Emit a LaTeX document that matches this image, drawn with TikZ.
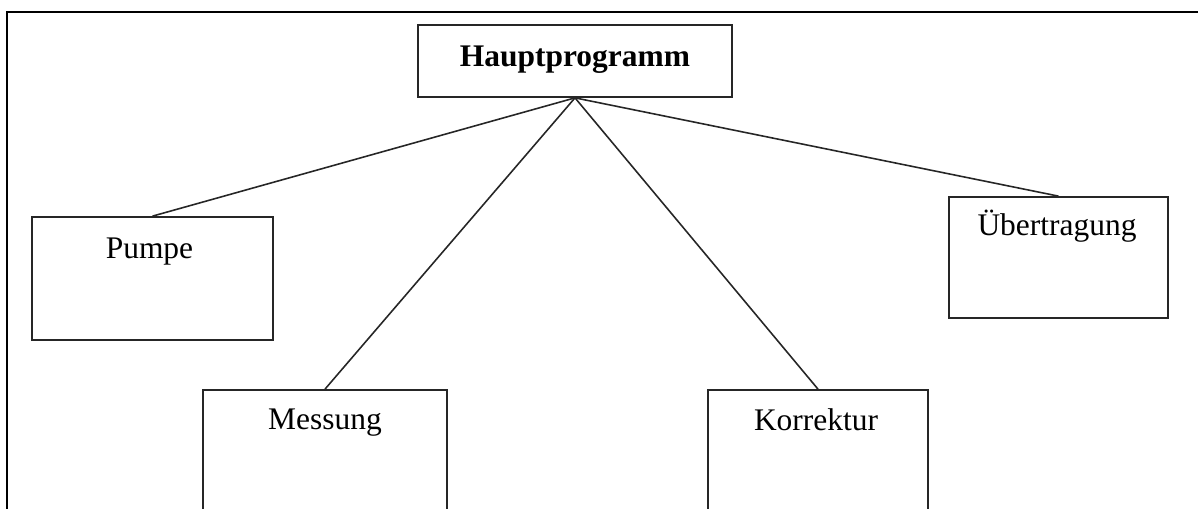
\documentclass[tikz,border=0pt]{standalone}
\usepackage{fontspec}
\setmainfont{Liberation Serif}
\usepackage{color}
\definecolor{rahmen}{rgb}{0,0,0}
\definecolor{kante}{rgb}{0.15,0.15,0.15}
\tikzstyle{modul} = [draw=kante,line width=1pt,rectangle,inner sep=0pt]
\tikzstyle{titel} = [anchor=base,inner sep=0pt,font=\fontsize{17.9}{20}\selectfont]
\tikzstyle{edge} = [draw=kante,line width=0.9pt]

\begin{document}
\begin{tikzpicture}[x=0.02cm,y=-0.02cm]
\useasboundingbox (0,0) rectangle (1198,509);
\clip (0,0) rectangle (1198,509);

% Rahmen (links und oben)
\draw[rahmen,line width=1.6pt] (7,600) -- (7,12) -- (1300,12);

\node[modul,minimum width=6.28cm,minimum height=1.44cm] (H) at (575,61) {};
\node[titel] (Htext) at ([yshift=-0.84cm]H.north) {
	\textbf{Hauptprogramm}
};

\node[modul,minimum width=4.82cm,minimum height=2.46cm] (P) at (152.5,278.5) {};
\node[titel] (Ptext) at ([xshift=-0.06cm,yshift=-0.84cm]P.north) {
	Pumpe
};

\node[modul,minimum width=4.88cm,minimum height=2.46cm] (M) at (325,451.5) {};
\node[titel] (Mtext) at ([yshift=-0.80cm]M.north) {
	Messung
};

\node[modul,minimum width=4.40cm,minimum height=2.46cm] (K) at (818,451.5) {};
\node[titel] (Ktext) at ([xshift=-0.04cm,yshift=-0.82cm]K.north) {
	Korrektur
};

\node[modul,minimum width=4.38cm,minimum height=2.42cm] (U) at (1058.5,257.5) {};
\node[titel] (Utext) at ([xshift=-0.03cm,yshift=-0.78cm]U.north) {
	Übertragung
};

\draw[edge] (H.south) -- (P.north);
\draw[edge] (H.south) -- (M.north);
\draw[edge] (H.south) -- (K.north);
\draw[edge] (H.south) -- (U.north);
\end{tikzpicture}
\end{document}
